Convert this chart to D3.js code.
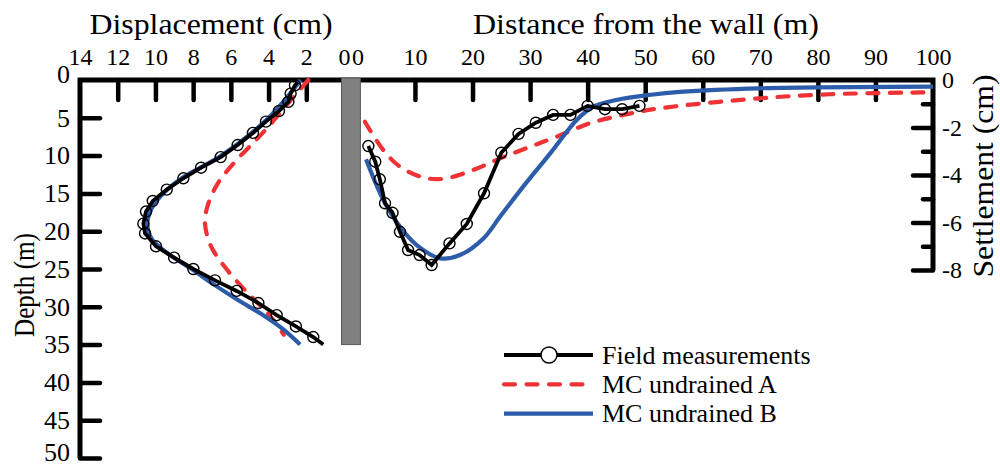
<!DOCTYPE html>
<html>
<head>
<meta charset="utf-8">
<script src="https://cdn.jsdelivr.net/npm/d3@7"></script>
<style>
  body { margin: 0; background: #fff; }
</style>
</head>
<body>
<div id="chart"></div>
<script>
// tick values
const dispTicks   = [14, 12, 10, 8, 6, 4, 2, 0];
const distTicks   = [0, 10, 20, 30, 40, 50, 60, 70, 80, 90, 100];
const depthTicks  = [0, 5, 10, 15, 20, 25, 30, 35, 40, 45, 50];
const settleTicks = [0, -1, -2, -3, -4, -5, -6, -7, -8];
const wallDepth = 35;

// lateral displacement profile (depth m, displacement cm)
const fieldLeftDepth = [0.3, 0.7, 1.8, 2.9, 4.1, 5.5, 7.0, 8.6, 10.2, 11.6, 13.0, 14.5, 16.0, 17.4, 19.0, 20.3, 22.0, 23.5, 25.0, 26.5, 27.9, 29.5, 31.1, 32.6, 34.0, 35.0];
const fieldLeftDisp  = [2.45, 2.6, 2.83, 2.95, 3.45, 4.14, 4.83, 5.64, 6.54, 7.58, 8.52, 9.40, 10.14, 10.50, 10.64, 10.55, 9.97, 9.01, 7.99, 6.84, 5.69, 4.54, 3.57, 2.55, 1.63, 1.10];
const mcALeftDepth = [0, 2.6, 5.7, 7.9, 10.6, 13.7, 16.8, 19.0, 22.0, 25.1, 28.2, 30.2, 32.2, 33.7];
const mcALeftDisp  = [1.89, 2.8, 3.85, 4.65, 5.7, 6.7, 7.25, 7.37, 7.05, 6.2, 5.1, 4.3, 3.6, 3.2];
const mcBLeftDepth = [0, 5, 10, 13, 15, 17, 19, 21, 23, 25, 27, 29, 31, 33, 35];
const mcBLeftDisp  = [2.3, 4.0, 6.5, 8.6, 9.58, 10.2, 10.43, 10.2, 9.31, 8.08, 6.93, 5.69, 4.36, 3.22, 2.33];

// surface settlement profile (distance m, settlement cm)
const fieldRightDist   = [1.9, 3.1, 3.9, 4.8, 6.1, 7.4, 8.8, 10.8, 12.9, 16, 19, 22, 25, 28, 31, 34, 37, 40, 43, 46, 49];
const fieldRightSettle = [-2.78, -3.44, -4.18, -5.19, -5.59, -6.39, -7.16, -7.37, -7.79, -6.88, -6.06, -4.77, -3.06, -2.27, -1.80, -1.47, -1.47, -1.09, -1.23, -1.23, -1.09];
const mcARightDist   = [1.3, 4.5, 7.4, 11.4, 14.9, 20.1, 24.8, 30, 34.6, 40.4, 46.2, 52.6, 70, 82, 99.5];
const mcARightSettle = [-1.76, -2.95, -3.65, -4.10, -4.16, -3.79, -3.30, -2.81, -2.39, -1.82, -1.47, -1.19, -0.77, -0.60, -0.52];
const mcBRightDist   = [1.5, 4.5, 7.4, 10.3, 14.4, 17.8, 21.9, 24.8, 28.8, 33.5, 38.1, 41, 45, 51, 56, 70, 100];
const mcBRightSettle = [-3.34, -5.05, -6.18, -6.95, -7.51, -7.37, -6.67, -5.75, -4.49, -3.09, -1.68, -1.12, -0.84, -0.62, -0.50, -0.35, -0.28];

const legendNames = ['Field measurements', 'MC undrained A', 'MC undrained B'];

(function(){
  let red = '#ee3236', blue = '#2d5caa',
      serif = "'Liberation Serif', 'Times New Roman', serif";
  let svg = d3.select('#chart').append('svg')
    .attr('width', 1000)
    .attr('height', 468)
    .style('font-family', serif);

  let xL = d3.scaleLinear().domain([14, 0]).range([80, 344]),
      yL = d3.scaleLinear().domain([0, 50]).range([80, 458]),
      xR = d3.scaleLinear().domain([0, 100]).range([357.4, 933]),
      yR = d3.scaleLinear().domain([0, -8]).range([80, 270]);

  function styleAxis(g, size){
    g.attr('font-family', null).attr('font-size', size || 24);
    g.select('.domain').remove();
    g.selectAll('.tick text').attr('fill', '#000');
    g.selectAll('.tick line')
      .attr('stroke', '#000')
      .attr('stroke-width', 4.5)
      .attr('stroke-linecap', 'round');
  }

  // frame
  svg.append('path')
    .attr('d', 'M' + xL(14) + ',' + yL(50) + 'V' + yL(0) + 'H' + xR(100) + 'V' + yR(-8))
    .attr('fill', 'none')
    .attr('stroke', '#000')
    .attr('stroke-width', 5);

  // displacement axis
  svg.append('g')
    .attr('transform', 'translate(0,' + yL(0) + ')')
    .call(d3.axisTop(xL).tickValues(dispTicks).tickSize(-20).tickPadding(15).tickFormat(d3.format('d')))
    .call(g => styleAxis(g))
    .selectAll('.tick').filter(d => d === 14 || d === 0).select('line').remove();

  // distance axis
  svg.append('g')
    .attr('transform', 'translate(0,' + yR(0) + ')')
    .call(d3.axisTop(xR).tickValues(distTicks).tickSize(-20).tickPadding(15).tickFormat(d3.format('d')))
    .call(g => styleAxis(g))
    .selectAll('.tick').filter(d => d === 0 || d === 100).select('line').remove();

  // depth axis
  let depthAxis = svg.append('g')
    .attr('transform', 'translate(' + xL(14) + ',0)')
    .call(d3.axisLeft(yL).tickValues(depthTicks).tickSize(-20).tickPadding(10).tickFormat(d3.format('d')))
    .call(g => styleAxis(g, 26));
  depthAxis.selectAll('.tick').filter(d => d === 0).select('line').remove();
  depthAxis.selectAll('.tick').filter(d => d === 0).select('text').attr('dy', '0.08em');
  depthAxis.selectAll('.tick').filter(d => d === 50).select('text').attr('dy', '0.1em');

  // settlement axis
  let settleAxis = svg.append('g')
    .attr('transform', 'translate(' + xR(100) + ',0)')
    .call(d3.axisRight(yR).tickValues(settleTicks).tickSize(-20).tickPadding(9)
      .tickFormat(d => d % 2 === 0 ? (d === 0 ? '0' : '-' + Math.abs(d)) : ''))
    .call(g => styleAxis(g));
  settleAxis.selectAll('.tick').filter(d => d === 0).select('line').remove();
  settleAxis.selectAll('.tick').filter(d => d % 2 !== 0).select('line').attr('x2', -10);

  // wall
  svg.append('rect')
    .attr('x', xL(0) - 2.5)
    .attr('y', yL(0) - 2)
    .attr('width', xR(0) - xL(0) + 5.5)
    .attr('height', yL(wallDepth) - yL(0) + 2)
    .attr('fill', '#808080')
    .attr('stroke', '#5a5a5a')
    .attr('stroke-width', 1);

  // axis titles
  svg.append('text').attr('x', 211).attr('y', 34).attr('text-anchor', 'middle')
    .attr('font-size', 30).attr('textLength', 243).attr('lengthAdjust', 'spacingAndGlyphs')
    .text('Displacement (cm)');
  svg.append('text').attr('x', 646).attr('y', 34).attr('text-anchor', 'middle')
    .attr('font-size', 30).attr('textLength', 346).attr('lengthAdjust', 'spacingAndGlyphs')
    .text('Distance from the wall (m)');
  svg.append('text').attr('transform', 'translate(34,285) rotate(-90)').attr('text-anchor', 'middle')
    .attr('font-size', 30).attr('textLength', 104).attr('lengthAdjust', 'spacingAndGlyphs')
    .text('Depth (m)');
  svg.append('text').attr('transform', 'translate(993,176) rotate(-90)').attr('text-anchor', 'middle')
    .attr('font-size', 30).attr('textLength', 203).attr('lengthAdjust', 'spacingAndGlyphs')
    .text('Settlement (cm)');

  // curves
  let lineL = d3.line().x(d => xL(d[1])).y(d => yL(d[0])),
      lineR = d3.line().x(d => xR(d[0])).y(d => yR(d[1]));

  let series = [
    {pts: d3.zip(mcALeftDepth, mcALeftDisp), line: lineL, color: red, dash: '11,11.5', smooth: true},
    {pts: d3.zip(mcARightDist, mcARightSettle), line: lineR, color: red, dash: '11,11.5', smooth: true},
    {pts: d3.zip(mcBLeftDepth, mcBLeftDisp), line: lineL, color: blue, dash: null, smooth: true},
    {pts: d3.zip(mcBRightDist, mcBRightSettle), line: lineR, color: blue, dash: null, smooth: true},
    {pts: d3.zip(fieldLeftDepth, fieldLeftDisp), line: lineL, color: '#000', dash: null, smooth: false},
    {pts: d3.zip(fieldRightDist, fieldRightSettle), line: lineR, color: '#000', dash: null, smooth: false}
  ];

  series.forEach(s => {
    svg.append('path')
      .attr('d', s.line.curve(s.smooth ? d3.curveCatmullRom : d3.curveLinear)(s.pts))
      .attr('fill', 'none')
      .attr('stroke', s.color)
      .attr('stroke-width', s.color === '#000' ? 3.8 : 4.2)
      .attr('stroke-dasharray', s.dash)
      .attr('stroke-linecap', s.dash ? 'round' : 'butt');
  });

  // field markers
  svg.append('g').selectAll('circle')
    .data(d3.zip(fieldLeftDepth, fieldLeftDisp).slice(1, -1))
    .enter().append('circle')
      .attr('cx', d => xL(d[1]))
      .attr('cy', d => yL(d[0]))
      .attr('r', 5.5)
      .attr('fill', 'none')
      .attr('stroke', '#000')
      .attr('stroke-width', 1.4);
  svg.append('g').selectAll('circle')
    .data(d3.zip(fieldRightDist, fieldRightSettle))
    .enter().append('circle')
      .attr('cx', d => xR(d[0]))
      .attr('cy', d => yR(d[1]))
      .attr('r', 5.5)
      .attr('fill', 'none')
      .attr('stroke', '#000')
      .attr('stroke-width', 1.4);

  // legend
  let legendStyle = [
    {color: '#000', dash: null, marker: true},
    {color: red, dash: '11,11.5', marker: false},
    {color: blue, dash: null, marker: false}
  ];
  let legend = svg.append('g').attr('transform', 'translate(504,355)');
  legendNames.forEach((name, i) => {
    let row = legend.append('g').attr('transform', 'translate(0,' + (i * 29.3) + ')');
    row.append('line')
      .attr('x1', 0).attr('x2', 89)
      .attr('stroke', legendStyle[i].color)
      .attr('stroke-width', 4.2)
      .attr('stroke-dasharray', legendStyle[i].dash)
      .attr('stroke-linecap', legendStyle[i].dash ? 'round' : 'butt');
    if(legendStyle[i].marker){
      row.append('circle')
        .attr('cx', 45).attr('r', 8)
        .attr('fill', '#fff').attr('stroke', '#000').attr('stroke-width', 1.5);
    }
    row.append('text')
      .attr('x', 98).attr('y', 8.5)
      .attr('font-size', 26)
      .text(name);
  });
})();
</script>
</body>
</html>
